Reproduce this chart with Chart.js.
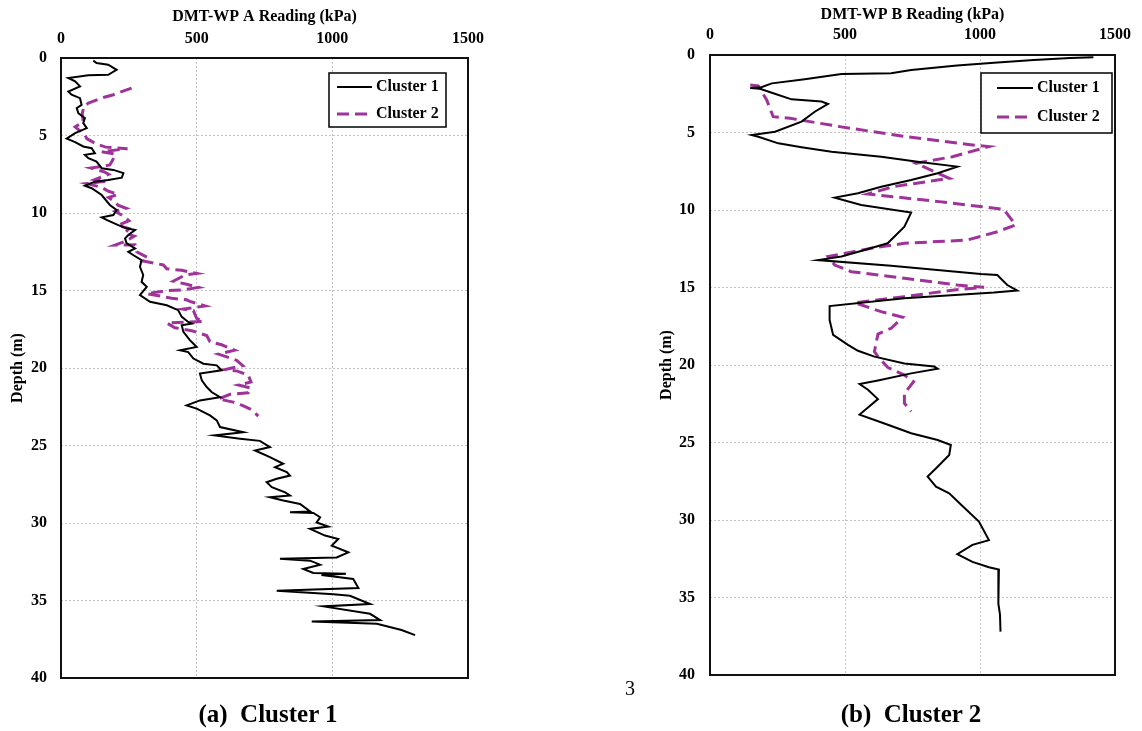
<!DOCTYPE html>
<html>
<head>
<meta charset="utf-8">
<script src="https://cdn.jsdelivr.net/npm/chart.js@4.4.0/dist/chart.umd.min.js"></script>
<style>
    body { margin: 0; background: #fff; width: 1142px; height: 731px; position: relative; overflow: hidden;
           font-family: "Liberation Serif", "Times New Roman", serif; }
    canvas { position: absolute; top: 0; }
    .caption { position: absolute; width: 300px; text-align: center; font-weight: bold; font-size: 25px; line-height: 30px; top: 699px; }
    .pagenum { position: absolute; left: 615px; top: 676px; width: 30px; text-align: center; font-size: 20px; line-height: 24px; }
</style>
</head>
<body>
<canvas id="chartA" width="560" height="731" style="left:0; width:560px; height:731px"></canvas>
<canvas id="chartB" width="502" height="731" style="left:640px; width:502px; height:731px"></canvas>
<div class="caption" style="left:118px">(a)&nbsp; Cluster 1</div>
<div class="caption" style="left:761px">(b)&nbsp; Cluster 2</div>
<div class="pagenum">3</div>

<script>
// Profils DMT : lecture (kPa) en fonction de la profondeur (m)
const seriesLabels = ['Cluster 1', 'Cluster 2'];
const readingMin = 0, readingMax = 1500, readingStep = 500;
const depthMin = 0, depthMax = 40, depthStep = 5;

// (a) DMT-WP A, Cluster 1
const depthA1 = [0.17,0.32,0.43,0.76,1.08,1.12,1.29,1.51,1.83,2.16, 2.37,2.59,3.02,3.23,3.56,3.88,4.2,4.52,4.85,5.2,
    5.43,5.71,5.82,6.14,6.25,6.46,6.68,7.11,7.22,7.43, 7.72,7.87,7.98,8.24,8.4,8.84,9.48,9.81,10.13,10.28,
    10.45,10.78,10.99,11.1,11.42,11.64,11.96,12.28,12.5,12.71, 13.04,13.47,14.0,14.44,14.76,15.3,15.73,15.95,16.27,16.7,
    17.03,17.13,17.24,17.67,18.2,18.64,18.86,18.97,19.39,19.72, 19.83,20.15,20.36,20.8,21.23,21.55,21.88,22.09,22.41,22.62,
    23.06,23.38,23.81,24.14,24.35,24.56,24.7,25.1,25.32,25.75, 26.18,26.4,26.72,26.94,27.15,27.37,27.69,28.02,28.23,28.34,
    28.55,28.77,29.25,29.3,29.35,29.63,29.96,30.23,30.38,30.81, 31.03,31.46,31.89,32.22,32.3,32.43,32.69,32.97,33.22,33.27,
    33.35,33.61,34.2,34.37,34.6,34.7,35.23,35.38,35.86,36.26, 36.35,36.5,36.9,37.23];
const readA1 = [119,131,174,205,174,101,27,52,70,27, 39,70,76,58,64,88,82,95,52,21,
    52,82,113,125,88,101,131,150,193,230, 224,174,125,88,113,150,180,205,193,150,
    168,211,242,273,248,236,242,273,248,266, 297,291,303,297,316,291,328,390,432,445,
    469,482,445,451,475,500,439,469,488,525, 574,592,512,519,537,555,586,512,463,500,
    549,574,586,672,566,660,733,770,715,770, 819,789,832,844,795,758,777,826,844,770,
    819,881,918,844,930,955,942,985,918,973, 1022,998,1059,1016,807,918,955,893,930,1050,
    960,1077,1096,795,1004,1065,1139,967,1139,1176, 924,1164,1255,1305];

// (a) DMT-WP A, Cluster 2
const depthA2 = [1.94,2.37,2.55,2.91,3.1,3.6,4.1,4.45,4.95,5.2, 5.55,5.75,5.85,6.05,6.2,6.6,6.9,7.0,7.1,7.35,
    7.5,7.85,7.95,8.1,8.35,8.6,8.8,9.0,9.3,9.5, 9.7,9.9,10.2,10.5,10.8,11.0,11.3,11.5,11.8,12.07,
    12.05,12.5,12.9,13.1,13.35,13.6,13.7,13.9,14.0,14.4, 14.6,14.8,14.97,15.0,15.2,15.5,15.6,15.7,16.0,16.2,
    16.3,16.8,17.0,17.1,17.4,17.6,17.9,18.3,18.5,18.85, 19.1,19.5,19.85,20.1,20.2,20.45,20.9,21.1,21.3,21.6,
    21.7,22.0,22.2,22.4,22.7,23.1];
const readA2 = [260,193,156,101,85,78,82,52,88,95, 130,165,245,150,200,190,180,150,110,160,
    175,125,165,95,150,175,210,175,200,210, 240,200,230,250,210,250,235,270,240,199,
    273,279,322,303,377,390,445,500,457,414, 463,506,445,396,316,408,463,475,531,451,
    488,500,525,390,420,482,537,549,592,640, 580,647,670,605,650,690,700,654,700,690,
    623,580,635,666,703,727];

// (b) DMT-WP B, Cluster 1
const depthB1 = [0.15,0.2,0.32,0.5,0.67,0.97,1.18,1.23,1.57,1.83, 2.08,2.13,2.18,2.5,2.86,3.0,3.16,3.66,4.3,4.95,
    5.16,5.27,5.7,5.95,6.24,6.56,6.88,7.2,7.63,8.06, 8.5,8.92,9.2,9.68,10.17,11.08,12.15,12.58,13.0,13.23,
    13.6,14.13,14.19,14.84,15.2,15.33,15.7,16.2,17.1,18.06, 18.7,19.08,19.46,19.9,20.1,20.24,20.54,21.0,21.23,21.6,
    22.2,23.2,23.77,24.4,24.84,25.16,25.8,26.56,27.2,27.85, 28.28,29.1,30.1,31.3,31.6,32.2,32.7,33.05,33.2,34.7,
    35.4,36.1,37.2];
const readB1 = [1420,1334,1199,1052,915,745,671,487,351,229, 190,149,185,240,302,413,437,388,339,241,
    155,179,253,339,450,634,769,916,843,745, 634,548,462,560,745,720,658,572,487,400,
    671,1003,1064,1101,1138,1052,720,443,443,456, 511,548,609,720,830,843,745,622,554,585,
    622,554,646,745,843,892,886,843,806,837, 886,935,996,1033,972,916,972,1033,1070,1068,
    1068,1074,1076];

// (b) DMT-WP B, Cluster 2
const depthB2 = [1.94,2.0,2.9,3.98,4.08,4.62,5.27,5.8,5.91,6.56, 6.99,7.96,8.5,8.97,9.14,9.46,9.96,10.97,11.4,11.94,
    12.04,12.15,12.47,12.8,13.0,13.55,13.98,14.41,14.84,14.99, 15.16,15.59,15.98,16.56,16.92,17.63,18.0,19.14,19.46,20.15,
    20.65,21.08,21.83,22.47,23.0];
const readB2 = [149,179,210,234,296,480,726,972,1033,898, 763,886,677,585,677,849,1088,1132,1064,953,
    843,720,597,499,437,462,523,720,916,1015, 904,720,536,634,714,671,622,609,622,658,
    720,754,720,720,745];

const SERIF = '"Liberation Serif", "Times New Roman", serif';
const PURPLE = '#a03399';
Chart.defaults.font.family = SERIF;
Chart.defaults.color = '#000';

function toPoints(depths, reads) {
    return reads.map((r, i) => ({ x: r, y: depths[i] }));
}

// Cadre noir autour de la zone de tracé
const framePlugin = {
    id: 'profileFrame',
    beforeDatasetsDraw(chart) {
        const { ctx, chartArea: a } = chart;
        ctx.save();
        ctx.strokeStyle = '#111';
        ctx.lineWidth = 2;
        ctx.strokeRect(a.left, a.top, a.right - a.left, a.bottom - a.top);
        ctx.restore();
    }
};

// Légende encadrée dessinée dans la zone de tracé
const legendPlugin = {
    id: 'profileLegend',
    afterDatasetsDraw(chart, args, opts) {
        const ctx = chart.ctx;
        const [x1, y1, x2, y2] = opts.box;
        ctx.save();
        ctx.fillStyle = '#fff';
        ctx.fillRect(x1, y1, x2 - x1, y2 - y1);
        ctx.strokeStyle = '#000';
        ctx.lineWidth = 1.5;
        ctx.strokeRect(x1, y1, x2 - x1, y2 - y1);
        chart.data.datasets.forEach((ds, i) => {
            const y = opts.rows[i];
            ctx.beginPath();
            ctx.setLineDash(ds.borderDash || []);
            ctx.strokeStyle = ds.borderColor;
            ctx.lineWidth = ds.borderWidth;
            ctx.moveTo(opts.lineX[0], y);
            ctx.lineTo(opts.lineX[1], y);
            ctx.stroke();
            ctx.setLineDash([]);
            ctx.fillStyle = '#000';
            ctx.font = 'bold 16px ' + SERIF;
            ctx.textBaseline = 'middle';
            ctx.fillText(ds.label, opts.textX, y);
        });
        ctx.restore();
    }
};

function makeProfileChart(canvasId, cfg) {
    const tickFont = { family: SERIF, size: 16, weight: 'bold' };
    const gridOpts = { color: '#c4c4c4', lineWidth: 1, drawTicks: false };
    return new Chart(document.getElementById(canvasId), {
        type: 'scatter',
        data: {
            datasets: [
                {
                    label: seriesLabels[0],
                    data: toPoints(cfg.depth1, cfg.read1),
                    showLine: true,
                    borderColor: '#000',
                    borderWidth: cfg.width1,
                    pointRadius: 0,
                    tension: 0
                },
                {
                    label: seriesLabels[1],
                    data: toPoints(cfg.depth2, cfg.read2),
                    showLine: true,
                    borderColor: PURPLE,
                    borderWidth: cfg.width2,
                    borderDash: [12, 6],
                    pointRadius: 0,
                    tension: 0
                }
            ]
        },
        options: {
            responsive: false,
            animation: false,
            events: [],
            layout: { padding: cfg.padding },
            plugins: {
                legend: { display: false },
                tooltip: { enabled: false },
                profileLegend: cfg.legend
            },
            scales: {
                x: {
                    type: 'linear',
                    position: 'top',
                    min: readingMin,
                    max: readingMax,
                    ticks: {
                        stepSize: readingStep,
                        padding: cfg.xTickPad,
                        font: tickFont,
                        maxRotation: 0,
                        callback: v => String(v)
                    },
                    grid: gridOpts,
                    border: { display: false, dash: [2, 2] },
                    title: {
                        display: true,
                        text: cfg.xTitle,
                        font: tickFont,
                        padding: { top: cfg.xTitlePad, bottom: 0 }
                    },
                    afterFit: s => { s.height = cfg.xHeight; }
                },
                y: {
                    type: 'linear',
                    reverse: true,
                    min: depthMin,
                    max: depthMax,
                    ticks: {
                        stepSize: depthStep,
                        padding: cfg.yTickPad,
                        font: tickFont,
                        callback: v => String(v)
                    },
                    grid: gridOpts,
                    border: { display: false, dash: [2, 2] },
                    title: {
                        display: true,
                        text: 'Depth (m)',
                        font: tickFont,
                        padding: { top: cfg.yTitlePad, bottom: 0 }
                    },
                    afterFit: s => { s.width = cfg.yWidth; }
                }
            }
        },
        plugins: [framePlugin, legendPlugin]
    });
}

makeProfileChart('chartA', {
    depth1: depthA1, read1: readA1, depth2: depthA2, read2: readA2,
    width1: 2, width2: 3,
    xTitle: 'DMT-WP A Reading (kPa)',
    padding: { left: 0, top: 0, right: 92, bottom: 53 },
    xHeight: 58, yWidth: 61,
    xTickPad: 10, yTickPad: 14, xTitlePad: 7, yTitlePad: 8,
    legend: { box: [329, 73, 446, 127], rows: [87, 114], lineX: [337, 372], textX: 376 }
});

makeProfileChart('chartB', {
    depth1: depthB1, read1: readB1, depth2: depthB2, read2: readB2,
    width1: 2, width2: 3,
    xTitle: 'DMT-WP B Reading (kPa)',
    padding: { left: 0, top: 0, right: 25, bottom: 56 },
    xHeight: 55, yWidth: 70,
    xTickPad: 11, yTickPad: 15, xTitlePad: 5, yTitlePad: 17,
    legend: { box: [341, 73, 472, 133], rows: [88, 117], lineX: [357, 393], textX: 397 }
});
</script>
</body>
</html>
